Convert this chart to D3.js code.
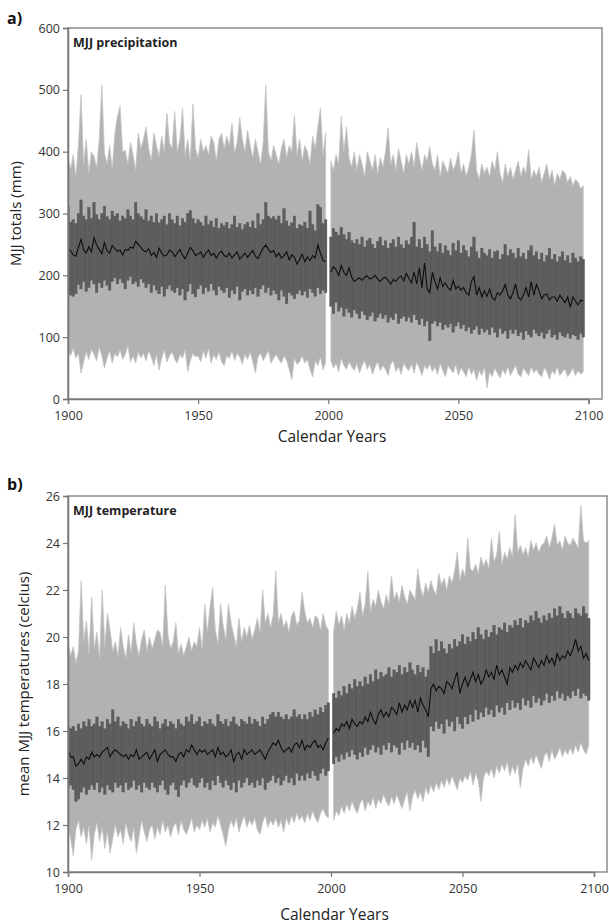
<!DOCTYPE html>
<html>
<head>
<meta charset="utf-8">
<script src="https://cdn.jsdelivr.net/npm/d3@7"></script>
<style>
  body { margin: 0; background: #fff; }
  text { font-family: "Open Sans", "DejaVu Sans", sans-serif; }
</style>
</head>
<body>
<div id="chart"></div>
<script>
// years: historical run 1900-1999, scenario run 2001-2098
var histYears = d3.range(1900, 2000);
var futYears = d3.range(2001, 2099);
var xTicks = [1900, 1950, 2000, 2050, 2100];

// ---- a) MJJ precipitation (mm) ----
var prHistMax = [390,372,395,360,410,492,380,420,365,400, 392,375,420,508,398,380,410,372,430,457,
  474,400,402,380,415,395,370,430,405,420, 440,405,385,430,410,392,425,400,462,415,
  405,465,400,420,470,395,420,385,477,405, 390,420,400,410,395,425,415,385,420,430,
  405,425,410,446,398,415,455,420,400,435, 410,390,420,400,380,415,508,400,385,410,
  395,380,405,420,390,410,400,459,395,420, 385,410,400,380,425,405,440,470,395,430];
var prHistQ3 = [312,286,290,284,300,322,296,290,310,292, 318,298,290,300,312,295,290,304,296,300,
  288,296,292,306,296,290,318,300,295,290, 306,288,296,286,300,285,290,296,282,300,
  290,284,296,280,292,286,300,305,292,284, 290,286,280,296,282,288,278,292,276,284,
  280,286,276,282,296,278,284,274,282,286, 278,288,276,300,282,290,318,296,292,295,
  290,296,284,308,288,280,285,296,276,282, 280,286,276,304,282,272,314,310,284,290];
var prHistMed = [242,240,233,231,245,258,241,236,246,238, 261,249,242,235,253,240,236,248,243,239,
  241,233,242,240,246,244,255,250,245,240, 238,243,232,237,229,244,236,231,233,241,
  238,230,236,242,233,227,236,245,240,232, 234,238,229,236,241,232,236,228,235,239,
  232,230,236,228,233,238,226,231,236,229, 235,240,231,227,236,244,249,242,237,240,
  230,236,228,232,238,225,233,229,218,226, 234,222,230,224,232,228,249,236,224,222];
var prHistQ1 = [172,168,166,170,185,178,190,174,180,192, 186,172,188,180,192,184,176,190,196,186,
  194,188,178,192,198,186,190,182,194,188, 180,186,172,184,176,170,182,166,178,184,
  176,172,180,168,178,160,174,186,170,165, 178,184,170,180,174,186,176,168,182,176,
  172,180,164,176,170,182,160,174,178,168, 176,170,180,166,178,184,172,180,168,176,
  170,160,176,166,154,172,168,162,170,176, 168,174,164,178,172,166,180,170,176,172];
var prHistMin = [78,70,82,66,74,42,60,76,64,80, 72,62,84,70,50,66,78,58,74,68,
  80,64,72,86,60,70,58,76,66,74, 62,78,68,54,72,47,66,80,60,70,
  76,64,58,72,66,80,44,62,74,68, 70,60,78,66,82,58,72,64,76,60,
  54,70,66,78,62,74,68,56,72,64, 76,60,42,68,74,62,70,78,58,66,
  72,64,58,70,62,48,31,66,56,60, 70,58,64,48,36,62,54,68,47,60];

var prFutMax = [385,370,395,380,457,400,440,390,375,400, 370,395,380,360,400,385,370,395,365,390,
  375,400,438,380,395,370,405,385,365,395, 380,400,375,415,390,370,395,385,408,380,
  370,395,360,385,375,365,390,370,380,400, 365,380,360,375,395,435,370,355,380,365,
  375,360,385,370,400,365,350,380,360,375, 355,370,385,360,375,365,403,355,370,360,
  375,350,365,380,355,370,345,365,355,370, 365,350,360,345,355,351,340,345];
var prFutQ3 = [262,276,270,265,278,266,258,270,256,252, 258,250,262,246,256,260,250,244,255,262,
  248,256,244,252,258,246,262,250,244,256, 250,262,286,246,258,244,262,250,238,272,
  246,238,252,236,248,240,232,252,240,256, 236,248,240,230,246,262,238,228,244,236,
  232,242,228,238,240,226,234,250,232,242, 236,228,244,230,236,226,240,248,232,238,
  226,236,222,232,244,226,234,222,230,238, 224,232,220,236,228,222,230,226];
var prFutMed = [205,214,209,200,216,205,200,212,197,190, 193,196,192,197,199,194,196,200,194,190,
  195,197,192,186,193,190,196,199,191,203, 195,188,205,186,212,180,220,178,172,205,
  190,178,196,182,188,180,176,192,178,182, 176,180,172,168,190,198,168,180,165,175,
  166,178,164,160,172,168,175,185,168,162, 172,186,165,160,168,180,165,190,168,185,
  175,162,168,170,160,165,165,158,168,162, 156,165,148,165,158,152,160,158];
var prFutQ1 = [150,138,156,142,148,134,146,140,132,144, 138,130,142,136,128,134,140,126,132,138,
  130,136,124,132,128,138,122,130,134,126, 132,124,136,128,120,130,118,126,94,122,
  126,118,124,112,120,116,122,108,118,124, 114,120,110,116,106,112,118,104,114,108,
  112,104,116,108,100,114,106,110,98,112, 106,112,102,108,96,110,104,100,112,106,
  102,108,98,106,112,100,104,96,108,102, 100,106,98,104,102,96,106,100];
var prFutMin = [62,50,58,44,66,54,48,60,52,46, 58,42,54,62,48,56,40,52,60,46,
  54,48,38,56,62,44,52,40,58,50, 46,56,42,60,50,38,54,48,56,44,
  52,40,58,46,36,54,48,42,56,38, 50,44,36,52,40,48,30,46,38,52,
  18,44,36,50,42,34,48,40,52,38, 46,54,40,36,50,44,38,52,42,48,
  40,36,50,44,32,46,40,52,38,44, 48,36,42,50,38,46,40,44];

// ---- b) MJJ temperature (celcius) ----
var tHistMax = [19.8,19.2,19.6,18.9,19.4,22.4,19.8,20.7,19.3,21.7, 19.5,20.2,19.1,22.0,19.6,21.0,20.3,19.4,19.8,19.2,
  20.4,19.6,19.1,20.1,19.3,20.6,19.7,19.2,19.9,20.3, 19.4,20.0,19.5,19.9,20.3,20.2,19.6,22.2,20.1,19.5,
  19.8,20.6,19.3,19.7,19.2,19.6,20.0,19.4,19.8,19.6, 20.4,19.5,21.4,20.2,21.3,22.1,20.3,19.7,21.4,20.5,
  19.9,21.4,20.6,20.1,19.6,20.8,19.8,20.4,20.0,20.5, 19.9,20.3,20.8,20.2,22.0,20.6,21.0,20.4,20.9,22.8,
  20.6,21.0,20.4,20.7,20.2,20.9,21.1,20.5,20.7,21.9, 21.1,20.6,20.8,20.4,20.9,20.8,20.3,21.0,20.5,20.3];
var tHistQ3 = [16.2,16.1,16.2,16.0,16.3,16.1,16.4,16.2,16.5,16.2, 16.3,16.6,16.2,16.4,16.1,16.5,16.3,16.9,16.4,16.6,
  16.2,16.4,16.3,16.1,16.5,16.2,16.4,16.6,16.3,16.2, 16.5,16.3,16.2,16.6,16.4,16.1,16.3,16.5,16.2,16.4,
  16.3,16.1,16.5,16.3,16.2,16.6,16.4,16.7,16.3,16.4, 16.6,16.2,16.4,16.3,16.5,16.3,16.2,16.7,16.4,16.3,
  16.5,16.2,16.4,16.6,16.3,16.2,16.5,16.4,16.3,16.6, 16.3,16.5,16.4,16.2,16.6,16.3,16.5,16.7,16.8,16.6,
  16.8,16.6,16.5,16.7,16.5,16.6,16.9,16.6,16.7,16.5, 16.7,16.5,16.8,16.6,16.9,16.7,17.0,16.8,17.1,17.2];
var tHistMed = [15.2,14.9,14.9,14.5,14.6,14.8,14.6,14.9,14.8,15.1, 14.9,15.0,14.9,15.1,15.2,15.3,14.9,15.1,15.2,15.1,
  15.0,14.9,15.0,14.8,15.0,14.9,15.2,14.8,14.9,15.0, 15.1,14.8,15.0,15.2,14.7,15.0,15.1,15.2,15.0,14.9,
  14.9,14.7,15.0,15.1,14.9,15.2,15.1,15.4,15.2,15.0, 15.2,15.1,15.2,15.0,15.1,15.2,14.9,15.3,15.0,15.1,
  14.9,15.0,15.2,14.7,15.0,15.1,14.8,15.2,15.0,15.1, 15.2,15.0,15.1,15.2,15.0,14.8,15.1,15.3,15.5,15.4,
  15.6,15.3,15.1,15.2,15.3,15.1,15.4,15.5,15.3,15.6, 15.2,15.4,15.3,15.5,15.6,15.3,15.4,15.2,15.5,15.7];
var tHistQ1 = [13.6,13.7,13.5,13.0,13.1,13.4,13.6,13.3,13.5,13.7, 13.5,13.8,13.4,13.6,13.3,13.7,13.5,13.4,13.8,13.6,
  13.7,13.4,13.8,13.5,13.6,13.9,13.5,13.7,13.4,13.8, 13.6,13.5,13.8,13.6,13.4,13.7,13.9,13.5,13.3,13.7,
  13.8,13.5,13.2,13.7,13.9,13.6,13.8,14.0,13.7,13.6, 13.8,14.0,13.6,13.8,13.5,13.9,13.7,14.1,13.8,13.6,
  13.9,13.7,13.5,13.8,13.4,13.9,13.6,13.8,14.0,13.7, 13.8,13.6,13.9,13.7,14.0,13.5,13.8,13.9,14.1,13.8,
  14.0,13.7,13.9,14.1,13.8,14.0,13.7,14.2,13.9,14.1, 13.9,14.2,14.0,14.3,14.1,13.9,14.2,14.4,14.1,14.3];
var tHistMin = [12.0,11.4,10.7,11.8,12.2,11.5,11.9,11.2,12.0,10.5, 11.6,12.1,11.3,11.9,11.0,11.7,10.8,11.4,12.0,11.5,
  11.8,11.2,12.1,11.6,11.3,11.9,10.8,11.5,12.2,11.7, 11.3,11.8,12.0,11.4,11.9,11.6,12.2,11.7,12.0,11.5,
  11.9,12.1,11.6,12.2,11.8,11.6,11.9,12.3,11.7,12.0, 11.8,12.2,11.9,12.3,11.7,12.1,11.9,12.4,12.0,11.6,
  11.1,11.8,12.2,11.9,12.3,11.7,12.1,12.4,11.9,12.2, 12.0,12.3,11.8,11.6,12.1,12.4,11.9,12.2,12.0,12.3,
  11.9,12.2,11.7,12.3,12.0,12.4,12.1,12.5,12.2,12.4, 12.1,12.5,12.2,12.6,12.3,12.1,12.5,12.7,12.4,12.3];

var tFutMax = [20.2,21.1,20.5,20.9,20.3,21.0,20.6,21.3,20.8,21.2, 21.9,20.9,21.4,22.8,21.1,21.6,21.3,22.0,21.5,21.2,
  21.8,21.4,22.6,21.6,21.9,21.5,22.2,21.7,21.4,22.0, 21.8,21.6,22.9,22.1,21.7,22.3,21.9,22.4,22.0,21.8,
  22.7,22.2,22.5,22.0,22.6,22.3,22.8,23.6,22.4,22.9, 22.6,24.2,22.9,22.8,23.1,22.7,23.4,23.0,23.3,22.9,
  24.2,23.2,23.5,24.5,23.1,23.6,23.3,23.8,23.4,25.2, 23.6,23.9,23.5,23.8,23.4,24.1,23.7,24.0,23.6,23.9,
  24.0,24.3,23.8,24.2,24.8,23.9,24.1,23.7,24.3,24.0, 23.9,24.2,24.0,23.8,25.6,24.1,24.0,24.1];
var tFutQ3 = [17.6,17.4,17.7,17.5,17.9,17.6,18.0,17.8,18.2,17.9, 18.1,17.9,18.3,18.0,18.4,18.1,18.6,18.2,18.5,18.3,
  18.4,18.7,18.3,18.6,18.5,18.8,18.4,18.7,18.5,18.9, 18.6,18.4,18.8,18.5,18.7,18.3,18.6,19.6,19.3,19.9,
  19.4,19.8,19.5,19.3,19.7,19.5,19.9,19.6,19.8,20.1, 19.7,20.0,19.8,20.2,19.9,20.4,20.1,19.9,20.3,20.0,
  20.2,20.5,20.1,20.4,20.3,20.6,20.2,20.5,20.4,20.7, 20.5,20.8,20.4,20.7,20.6,20.9,20.7,21.1,20.8,20.6,
  20.9,20.7,21.0,20.8,21.2,20.9,21.3,21.0,20.8,21.1, 21.0,20.8,21.2,21.0,20.9,21.3,21.0,20.8];
var tFutMed = [15.9,16.1,16.0,16.3,16.2,16.4,16.1,16.5,16.3,16.2, 16.4,16.3,16.6,16.4,16.8,16.5,16.3,16.7,16.9,16.6,
  16.8,16.6,17.0,16.9,16.7,17.2,16.8,17.1,16.9,17.3, 17.0,17.3,16.8,17.4,17.1,16.9,16.6,17.8,18.0,17.7,
  17.9,17.8,17.6,18.1,18.0,17.8,18.2,18.5,17.6,18.0, 18.3,17.9,18.2,18.5,18.1,18.4,18.0,18.2,18.6,18.3,
  18.5,18.2,18.8,18.4,18.6,18.3,18.0,18.7,18.5,18.8, 18.6,18.9,18.7,19.0,18.8,18.6,19.1,18.9,18.7,19.0,
  18.8,19.2,18.9,19.1,18.8,19.3,19.0,19.2,19.1,19.4, 19.2,19.5,19.9,19.4,19.6,19.1,19.3,19.0];
var tFutQ1 = [14.6,14.9,14.7,15.0,14.8,15.1,14.9,15.2,15.0,14.8, 15.1,14.9,15.3,15.0,15.2,15.4,15.1,15.3,15.0,15.4,
  15.2,15.5,15.1,15.4,15.3,15.0,15.5,15.2,15.6,15.3, 15.5,15.2,15.4,15.1,15.6,15.3,14.9,16.2,16.0,16.4,
  16.1,16.3,15.9,16.5,16.2,16.4,16.0,16.6,16.3,16.1, 16.6,16.3,16.7,16.4,16.9,16.5,16.8,16.6,17.0,16.7,
  16.9,16.6,17.1,16.8,17.0,16.7,17.2,16.9,17.3,17.0, 17.2,16.9,17.4,17.1,17.3,17.0,17.5,17.2,17.4,17.1,
  17.3,17.6,17.2,17.5,17.3,17.7,17.4,17.6,17.3,17.5, 17.4,17.7,17.5,17.8,17.4,17.6,17.5,17.3];
var tFutMin = [12.2,12.6,12.4,12.8,12.5,12.9,12.6,13.0,12.7,12.5, 12.9,13.1,12.6,13.0,12.8,13.2,12.7,13.1,12.9,13.3,
  13.0,12.8,13.2,12.9,13.3,13.0,12.7,13.1,13.4,12.6, 13.2,13.5,13.1,13.4,13.0,13.6,13.3,13.7,13.4,13.8,
  13.5,13.9,13.6,14.0,13.7,14.1,13.8,13.5,14.0,13.8, 14.1,13.9,14.3,13.7,14.2,13.9,13.0,14.0,14.3,14.1,
  14.4,14.0,14.5,14.2,14.6,14.3,14.7,14.1,14.5,14.2, 14.6,13.6,14.4,14.8,14.5,14.9,14.6,15.0,14.7,14.4,
  14.9,15.1,14.7,15.2,14.8,15.0,15.3,14.9,15.2,15.0, 15.3,15.0,15.4,15.1,15.5,15.2,15.0,15.4];

var w = 609, h = 924;

var svg = d3.select("#chart")
  .append("svg")
  .attr("width", w)
  .attr("height", h);

function rows(years, mx, q3, med, q1, mn) {
  return years.map(function(yr, i) {
    return {yr: yr, max: mx[i], q3: q3[i], med: med[i], q1: q1[i], min: mn[i]};
  });
}

var panels = [
  {
    letter: "a)", letterY: 24, title: "MJJ precipitation", titleY: 47,
    left: 68, right: 602, top: 28, bottom: 399, x2100: 588.5,
    yDomain: [0, 600], yTicks: [0, 100, 200, 300, 400, 500, 600],
    yTitle: "MJJ totals (mm)", yTitleX: 21, xTitleY: 442,
    segments: [
      rows(histYears, prHistMax, prHistQ3, prHistMed, prHistQ1, prHistMin),
      rows(futYears, prFutMax, prFutQ3, prFutMed, prFutQ1, prFutMin)
    ]
  },
  {
    letter: "b)", letterY: 490, title: "MJJ temperature", titleY: 515,
    left: 68, right: 607, top: 496, bottom: 872, x2100: 594,
    yDomain: [10, 26], yTicks: [10, 12, 14, 16, 18, 20, 22, 24, 26],
    yTitle: "mean MJJ temperatures (celcius)", yTitleX: 29, xTitleY: 920,
    segments: [
      rows(histYears, tHistMax, tHistQ3, tHistMed, tHistQ1, tHistMin),
      rows(futYears, tFutMax, tFutQ3, tFutMed, tFutQ1, tFutMin)
    ]
  }
];

panels.forEach(function(p, pi) {
  var x = d3.scaleLinear().domain([1900, 2100]).range([p.left, p.x2100]);
  var y = d3.scaleLinear().domain(p.yDomain).range([p.bottom, p.top]);
  var bw = x(1901) - x(1900);

  var g = svg.append("g");

  g.append("clipPath").attr("id", "clip" + pi)
    .append("rect")
    .attr("x", p.left + 1).attr("y", p.top)
    .attr("width", p.right - p.left - 1).attr("height", p.bottom - p.top);

  var plot = g.append("g").attr("clip-path", "url(#clip" + pi + ")");

  var spread = d3.area()
    .x(function(d) { return x(d.yr); })
    .y0(function(d) { return y(d.min); })
    .y1(function(d) { return y(d.max); });

  var medLine = d3.line()
    .x(function(d) { return x(d.yr); })
    .y(function(d) { return y(d.med); });

  p.segments.forEach(function(seg) {
    // ensemble spread (light grey)
    plot.append("path")
      .datum(seg)
      .attr("d", spread)
      .attr("fill", "#b2b2b2")
      .attr("stroke", "#c4c4c4")
      .attr("stroke-width", 0.8);

    // interquartile boxes
    plot.selectAll(null)
      .data(seg)
      .enter()
      .append("rect")
      .attr("x", function(d) { return x(d.yr) - bw / 2; })
      .attr("width", bw)
      .attr("y", function(d) { return y(d.q3); })
      .attr("height", function(d) { return y(d.q1) - y(d.q3); })
      .attr("fill", "#5d5d5d")
      .attr("stroke", "#525252")
      .attr("stroke-width", 0.3);

    // median
    plot.append("path")
      .datum(seg)
      .attr("d", medLine)
      .attr("fill", "none")
      .attr("stroke", "#0d0d0d")
      .attr("stroke-width", 1.1);
  });

  // frame
  g.append("rect")
    .attr("x", p.left).attr("y", p.top)
    .attr("width", p.right - p.left).attr("height", p.bottom - p.top)
    .attr("fill", "none")
    .attr("stroke", "#8c8c8c")
    .attr("stroke-width", 1.5);

  var yAxis = g.append("g")
    .attr("transform", "translate(" + p.left + ",0)")
    .call(d3.axisLeft(y).tickValues(p.yTicks).tickFormat(d3.format("d")).tickSize(5).tickPadding(3));

  var xAxis = g.append("g")
    .attr("transform", "translate(0," + p.bottom + ")")
    .call(d3.axisBottom(x).tickValues(xTicks).tickFormat(d3.format("d")).tickSize(5).tickPadding(7));

  [yAxis, xAxis].forEach(function(ax) {
    ax.select(".domain").attr("stroke", "#777").attr("stroke-width", 1.5);
    ax.selectAll(".tick line").attr("stroke", "#777").attr("stroke-width", 1.2);
    ax.selectAll(".tick text")
      .attr("fill", "#333")
      .style("font-size", "12.5px")
      .style("font-family", "'Open Sans', sans-serif");
  });

  g.append("text")
    .attr("x", 7).attr("y", p.letterY)
    .attr("font-size", 16).attr("font-weight", "bold").attr("fill", "#111")
    .text(p.letter);

  g.append("text")
    .attr("x", p.left + 5).attr("y", p.titleY)
    .attr("font-size", 12.5).attr("font-weight", "bold").attr("fill", "#222")
    .text(p.title);

  g.append("text")
    .attr("transform", "translate(" + p.yTitleX + "," + ((p.top + p.bottom) / 2) + ") rotate(-90)")
    .attr("text-anchor", "middle")
    .attr("font-size", 15).attr("fill", "#222")
    .text(p.yTitle);

  g.append("text")
    .attr("x", (p.left + p.right) / 2 - 3).attr("y", p.xTitleY)
    .attr("text-anchor", "middle")
    .attr("font-size", 15.5).attr("fill", "#222")
    .text("Calendar Years");
});
</script>
</body>
</html>
